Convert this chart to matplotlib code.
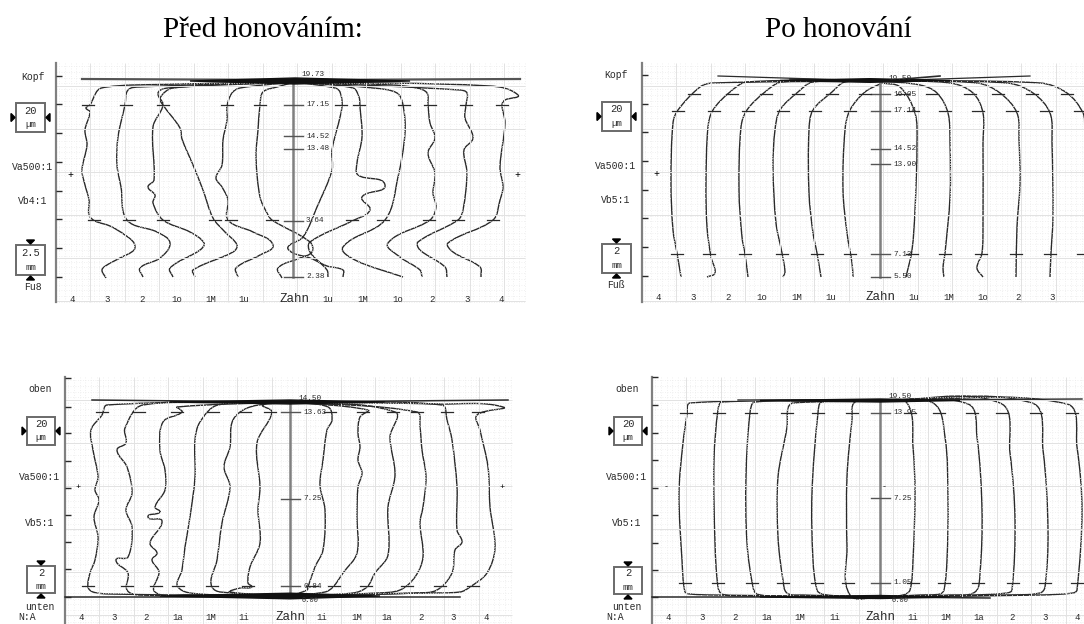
import numpy as np
import matplotlib
matplotlib.use('Agg')
import matplotlib.pyplot as plt
from matplotlib.patches import Rectangle, Polygon, PathPatch
from matplotlib.path import Path

before_top = [
    [(295,82),(133,85),(107,87),(98,90),(90,105),(86,108),(90,112),(85,130),(87,145),(82,170),(85,185),(89,200),(89,215),(95,221),(110,226),(125,235),(134,243),(134,250),(120,258),(107,265),(102,270),(106,278)],
    [(295,82),(140,87),(128,90),(125,105),(118,137),(117,165),(121,187),(127,220),(157,232),(170,243),(160,258),(140,268),(143,277)],
    [(295,82),(168,88),(158,93),(163,105),(153,127),(154,180),(148,187),(155,195),(153,203),(163,220),(190,232),(204,243),(200,250),(170,268),(173,277)],
    [(295,82),(173,88),(160,98),(163,105),(180,128),(182,139),(193,165),(203,190),(213,218),(225,232),(237,245),(233,252),(193,270),(195,277)],
    [(295,82),(240,88),(232,93),(227,106),(227,120),(223,140),(222,165),(216,178),(222,187),(228,200),(228,220),(253,232),(273,245),(260,255),(236,268),(238,277)],
    [(295,82),(277,87),(263,92),(260,105),(258,130),(256,157),(260,197),(267,213),(272,220),(310,242),(312,252),(300,258),(278,268),(282,278)],
    [(295,82),(335,88),(340,92),(342,107),(332,150),(332,170),(317,207),(303,237),(288,247),(293,253),(310,258),(327,266),(343,270),(343,277)],
    [(295,82),(353,88),(359,97),(360,107),(362,137),(357,163),(358,175),(385,185),(362,197),(370,210),(352,221),(310,242),(310,252),(327,270),(328,277)],
    [(295,82),(373,88),(397,93),(403,105),(405,133),(398,177),(385,220),(343,247),(355,260),(403,277)],
    [(295,82),(393,85),(417,88),(427,93),(428,105),(430,123),(435,138),(428,153),(435,173),(433,193),(436,207),(430,220),(388,243),(400,257),(420,270),(422,277)],
    [(295,82),(460,90),(467,93),(466,105),(465,118),(473,138),(464,150),(467,173),(463,210),(458,220),(418,242),(420,250),(445,267),(447,277)],
    [(295,82),(490,86),(518,95),(505,100),(502,105),(505,123),(500,167),(503,187),(500,200),(493,220),(448,243),(453,252),(480,267),(481,277)],
]
after_top = [
    [(880,81),(713,83),(700,87),(678,110),(673,123),(671,183),(673,230),(677,253),(681,277)],
    [(880,81),(747,82),(730,92),(713,110),(708,127),(706,183),(707,227),(711,257),(715,273),(707,277)],
    [(880,81),(782,82),(765,92),(747,110),(741,127),(739,190),(742,237),(745,254),(748,277)],
    [(880,81),(813,82),(798,92),(780,110),(775,130),(773,167),(776,223),(782,253),(785,272),(783,277)],
    [(880,81),(845,82),(832,92),(813,110),(809,130),(809,193),(813,233),(817,253),(821,277)],
    [(882,83),(865,92),(850,110),(845,130),(843,190),(847,233),(852,263),(853,277)],
    [(882,83),(900,87),(915,113),(917,143),(915,210),(912,250),(906,277)],
    [(880,81),(920,85),(937,93),(948,113),(950,143),(950,197),(945,253),(943,268),(944,277)],
    [(880,81),(950,83),(973,93),(983,113),(983,143),(983,223),(982,253),(977,268),(983,277)],
    [(880,81),(977,83),(1000,93),(1017,113),(1019,140),(1020,183),(1017,227),(1016,277)],
    [(880,81),(1007,83),(1033,93),(1050,113),(1052,143),(1053,217),(1051,253),(1050,277)],
    [(880,81),(1040,83),(1067,93),(1083,113),(1085,130)],
]
before_bottom = [
    [(290,402),(107,405),(102,415),(91,430),(93,450),(98,477),(95,490),(99,500),(94,517),(98,537),(95,560),(90,573),(88,587),(93,592),(110,594),(290,596)],
    [(290,402),(143,405),(125,428),(126,443),(117,450),(127,467),(132,493),(126,510),(132,527),(128,557),(116,560),(128,573),(127,590),(140,595),(290,596)],
    [(290,402),(177,407),(182,412),(163,422),(160,450),(165,470),(165,490),(155,507),(160,512),(148,517),(162,521),(150,543),(157,553),(152,560),(159,572),(155,592),(187,595),(290,596)],
    [(290,402),(218,405),(200,422),(195,440),(195,477),(190,517),(185,547),(182,570),(178,587),(200,594),(290,596)],
    [(290,402),(250,407),(233,420),(230,447),(224,467),(230,487),(222,523),(217,560),(212,587),(233,593),(290,596)],
    [(290,402),(263,405),(272,412),(257,443),(260,487),(258,510),(260,543),(250,567),(248,583),(252,587),(240,588),(230,592),(290,596)],
    [(290,402),(328,407),(332,420),(327,430),(323,460),(320,485),(325,510),(323,550),(315,567),(308,587),(307,590),(290,596)],
    [(290,402),(368,410),(360,417),(358,433),(360,447),(358,460),(362,473),(358,487),(357,517),(357,553),(343,573),(333,587),(325,592),(290,596)],
    [(290,402),(395,412),(390,437),(395,475),(388,507),(388,555),(375,573),(367,587),(353,593),(290,596)],
    [(290,402),(417,412),(420,427),(422,450),(426,477),(423,507),(420,523),(423,557),(415,577),(400,590),(377,593),(290,596)],
    [(290,402),(442,405),(447,420),(452,440),(457,487),(457,530),(462,542),(455,550),(452,573),(437,590),(417,593),(290,596)],
    [(290,402),(440,404),(503,407),(477,415),(480,430),(488,467),(490,507),(495,548),(487,573),(470,587),(460,592),(420,593),(290,596)],
]
after_bottom = [
    [(880,401),(690,403),(687,415),(683,443),(679,493),(682,560),(685,592),(690,594),(713,595),(880,597)],
    [(880,401),(722,402),(718,410),(714,460),(715,543),(718,587),(722,594),(740,596),(880,597)],
    [(880,401),(755,402),(750,413),(746,477),(747,543),(753,587),(757,594),(777,596),(880,597)],
    [(880,401),(793,403),(788,408),(787,427),(778,477),(778,537),(783,580),(787,593),(803,595),(880,597)],
    [(880,401),(822,402),(818,413),(812,493),(813,560),(817,590),(822,594),(840,596),(880,597)],
    [(880,401),(855,402),(852,420),(847,477),(847,547),(850,595),(880,597)],
    [(880,401),(907,403),(913,447),(915,493),(913,560),(910,590),(903,595),(880,597)],
    [(880,401),(933,403),(945,437),(948,500),(947,560),(944,590),(940,594),(920,595),(880,597)],
    [(880,401),(968,404),(977,437),(982,510),(980,573),(975,592),(950,595),(880,597)],
    [(880,401),(1000,403),(1010,453),(1015,520),(1012,590),(1007,593),(973,595),(880,597)],
    [(880,401),(1032,403),(1043,450),(1048,530),(1045,587),(1040,593),(1007,595),(880,597)],
    [(880,401),(1067,404),(1077,447),(1082,510),(1077,590),(1073,593),(1040,595),(880,597)],
]

# evaluation markers: y level -> x positions
marks_before_top = {105: [88,126,163,227,260,341,359,404,430,466,502],
                    220: [94,129,163,215,231,272,352,383,429,458,493]}
marks_after_top = {94: [694,732,766,798,832,865,903,932,970,998,1032,1067],
                   111: [678,714,748,783,815,850,913,945,978,1012,1046,1080],
                   254: [677,709,745,782,817,850,912,945,981,1016,1050,1083]}
marks_before_bottom = {412: [102,139,177,213,245,270,330,363,393,417,447,478],
                       586: [88,127,156,178,212,248,312,334,366,407,440,473]}
marks_after_bottom = {413: [686,719,751,787,818,852,910,939,972,1002,1036,1072],
                      583: [685,718,752,783,817,848,913,944,978,1013,1045,1077]}

# centre scale: y level, label
scale_before_top = [(105,'17.15'),(136,'14.52'),(149,'13.48'),(221,'3.64'),(277,'2.38')]
scale_after_top = [(94,'16.05'),(111,'17.14'),(149,'14.52'),(164,'13.90'),(254,'7.13'),(277,'5.50')]
scale_before_bottom = [(412,'13.63'),(499,'7.25'),(586,'0.84')]
scale_after_bottom = [(413,'13.95'),(498,'7.25'),(583,'1.05')]

teeth_top = ['4','3','2','1o','1M','1u','Zahn','1u','1M','1o','2','3','4']
teeth_bottom = ['4','3','2','1a','1M','1i','Zahn','1i','1M','1a','2','3','4']
tooth_x_before_top = [72,107,142,177,211,244,294,328,363,398,432,467,501]
tooth_x_after_top = [658,693,728,762,797,831,880,914,949,983,1018,1052]
tooth_x_before_bottom = [81,114,146,178,211,244,290,322,357,387,421,453,486]
tooth_x_after_bottom = [668,702,735,767,800,835,880,913,946,979,1012,1045,1077]

INK = '#2a2a2a'
GREY = '#808080'
MONO = 'Liberation Mono'

fig = plt.figure(figsize=(10.84, 6.24), dpi=100)
ax = fig.add_axes([0, 0, 1, 1])
ax.set_xlim(0, 1084)
ax.set_ylim(624, 0)
ax.axis('off')


def curve_path(tr):
    # bezier through the read points, handles limited by the segment length so long leads stay flat
    pts = np.array(tr, dtype=float)
    verts = [pts[0]]
    codes = [Path.MOVETO]
    n = len(pts)
    dirs = []
    for i in range(n):
        d = pts[min(i + 1, n - 1)] - pts[max(i - 1, 0)]
        dirs.append(d / np.hypot(*d))
    for i in range(n - 1):
        seg = np.hypot(*(pts[i + 1] - pts[i]))
        verts += [pts[i] + dirs[i] * seg / 3, pts[i + 1] - dirs[i + 1] * seg / 3, pts[i + 1]]
        codes += [Path.CURVE4] * 3
    return Path(verts, codes)


def wedge(x_left, x_c, x_right, y, half):
    ax.add_patch(Polygon([(x_left, y), (x_c, y - half), (x_right, y), (x_c, y + half)], color='#111111', zorder=2.5))


def draw_panel(x0, x1, y0, y1, yticks, traces, marks, scale, cx, top, bottom, top_lab, bot_lab):
    # dotted minor grid, then the lighter solid major grid
    ax.vlines(np.arange(x0 + 3, x1, 5.75), y0, y1, color='#ececec', lw=0.6, ls=(0, (1, 2)))
    ax.hlines(np.arange(y0 + 3, y1, 5.75), x0, x1, color='#ececec', lw=0.6, ls=(0, (1, 2)))
    ax.vlines(np.arange(x0 + 34, x1, 34.5), y0, y1, color='#e2e2e2', lw=0.7)
    ax.hlines(np.arange(y0 + 23, y1, 43), x0, x1, color='#e2e2e2', lw=0.7)
    # left axis
    ax.plot([x0, x0], [y0, y1], color=GREY, lw=1.6)
    ax.hlines(yticks, x0, x0 + 6, color=INK, lw=1.0)
    # centre scale
    ax.plot([cx, cx], [top + 1, bottom], color=GREY, lw=1.8)
    for y, lab in scale:
        ax.plot([cx - 9, cx + 10], [y, y], color='#555555', lw=1.0)
        ax.text(cx + 13, y, lab, family=MONO, fontsize=5.6, color=INK, va='center', ha='left')
    ax.text(cx + 20, top - 3, top_lab, family=MONO, fontsize=5.6, color=INK, va='center', ha='center')
    if bot_lab:
        ax.text(cx + 20, bottom + 3, bot_lab, family=MONO, fontsize=5, color=INK, va='center', ha='center')
    # traces
    for tr in traces:
        ax.add_patch(PathPatch(curve_path(tr), fc='none', ec=INK, lw=1.0))
    # evaluation markers
    for y, xs in marks.items():
        for x in xs:
            ax.plot([x - 6, x + 6], [y, y], color=INK, lw=0.9)


def draw_box(x0, x1, y0, y1, line1, line2, kind):
    ax.add_patch(Rectangle((x0, y0), x1 - x0, y1 - y0, fc='white', ec='#6a6a6a', lw=1.4, zorder=3))
    xm = (x0 + x1) / 2
    ym = (y0 + y1) / 2
    ax.text(xm, ym - 7, line1, family=MONO, fontsize=7.5, color=INK, ha='center', va='center', zorder=4)
    ax.text(xm, ym + 7, line2, family=MONO, fontsize=6.5, color=INK, ha='center', va='center', zorder=4)
    if kind == 'side':
        ax.add_patch(Polygon([(x0 - 5, ym - 4), (x0 - 5, ym + 4), (x0 - 1, ym)], color='k', zorder=4))
        ax.add_patch(Polygon([(x1 + 5, ym - 4), (x1 + 5, ym + 4), (x1 + 1, ym)], color='k', zorder=4))
    else:
        ax.add_patch(Polygon([(xm - 4, y0 - 5), (xm + 4, y0 - 5), (xm, y0 - 1)], color='k', zorder=4))
        ax.add_patch(Polygon([(xm - 4, y1 + 5), (xm + 4, y1 + 5), (xm, y1 + 1)], color='k', zorder=4))


def draw_teeth(labels, xs, y):
    for lab, x in zip(labels, xs):
        big = lab == 'Zahn'
        ax.text(x, y, lab, family=MONO, fontsize=9 if big else 6.5, color=INK, ha='center', va='center')


def side_text(x, items):
    for y, lab in items:
        ax.text(x, y, lab, family=MONO, fontsize=7, color=INK, ha='center', va='center')


# top left
draw_panel(56, 525, 63, 302, [76,104,133,162,191,219,248,277], before_top, marks_before_top,
           scale_before_top, 293, 78, 277, '19.73', None)
ax.plot([82, 300, 520], [79, 80, 79], color='#555555', lw=1.6)
wedge(190, 295, 410, 81, 3)
draw_box(16, 45, 103, 132, '20', 'µm', 'side')
draw_box(16, 45, 245, 275, '2.5', 'mm', 'vert')
side_text(33, [(77,'Kopf'),(167,'Va500:1'),(201,'Vb4:1'),(287,'Fu8')])
draw_teeth(teeth_top, tooth_x_before_top, 299)
ax.text(70, 175, '+', family=MONO, fontsize=7, ha='center', va='center')
ax.text(517, 175, '+', family=MONO, fontsize=7, ha='center', va='center')

# top right
draw_panel(642, 1084, 63, 302, [75,104,132,161,190,218,247,276], after_top, marks_after_top,
           scale_after_top, 880, 82, 277, '19.50', None)
ax.plot([718, 880, 1030], [76, 81, 76], color=INK, lw=0.9)
ax.plot([790, 880, 940], [79, 81, 76], color=INK, lw=1.2)
wedge(780, 870, 950, 80.5, 1.8)
draw_box(602, 631, 102, 131, '20', 'µm', 'side')
draw_box(602, 631, 244, 273, '2', 'mm', 'vert')
side_text(616, [(75,'Kopf'),(166,'Va500:1'),(200,'Vb5:1'),(285,'Fuß')])
draw_teeth(teeth_top, tooth_x_after_top, 297)
ax.text(656, 174, '+', family=MONO, fontsize=7, ha='center', va='center')

# bottom left
draw_panel(65, 512, 377, 624, [378,407,433,461,488,515,542,569,597], before_bottom, marks_before_bottom,
           scale_before_bottom, 290, 401, 597, '14.50', '0.00')
ax.plot([92, 290, 508], [400, 402, 400], color=INK, lw=1.1)
wedge(170, 290, 385, 402, 2)
ax.plot([65, 290, 460], [597, 597, 597], color=INK, lw=1.1)
wedge(160, 290, 380, 596, 2.8)
draw_box(27, 55, 417, 445, '20', 'µm', 'side')
draw_box(27, 55, 566, 593, '2', 'mm', 'vert')
side_text(40, [(389,'oben'),(477,'Va500:1'),(523,'Vb5:1'),(607,'unten')])
ax.text(27, 617, 'N:A', family=MONO, fontsize=7, color=INK, ha='center', va='center')
draw_teeth(teeth_bottom, tooth_x_before_bottom, 617)
ax.text(78, 487, '+', family=MONO, fontsize=6, ha='center', va='center')
ax.text(502, 487, '+', family=MONO, fontsize=6, ha='center', va='center')

# bottom right
draw_panel(652, 1084, 377, 624, [377,405,433,460,488,515,543,570,597], after_bottom, marks_after_bottom,
           scale_after_bottom, 880, 400, 597, '19.50', '0.00')
ax.plot([738, 880, 1082], [400, 400, 399], color=INK, lw=1.0)
wedge(760, 880, 960, 400.5, 1.5)
ax.plot([652, 880, 990], [597, 597, 598], color=INK, lw=1.1)
wedge(760, 880, 950, 597, 1.5)
draw_box(614, 642, 417, 445, '20', 'µm', 'side')
draw_box(614, 642, 567, 594, '2', 'mm', 'vert')
side_text(627, [(389,'oben'),(477,'Va500:1'),(523,'Vb5:1'),(607,'unten')])
ax.text(615, 617, 'N:A', family=MONO, fontsize=7, color=INK, ha='center', va='center')
draw_teeth(teeth_bottom, tooth_x_after_bottom, 617)
ax.text(666, 487, '-', family=MONO, fontsize=6, ha='center', va='center')
ax.text(884, 487, '-', family=MONO, fontsize=6, ha='center', va='center')

# headings
ax.text(263, 30, 'Před honováním:', family='Liberation Serif', fontsize=21, color='k', ha='center', va='center')
ax.text(838, 30, 'Po honování', family='Liberation Serif', fontsize=21, color='k', ha='center', va='center')

fig.savefig('out.png', dpi=100)
